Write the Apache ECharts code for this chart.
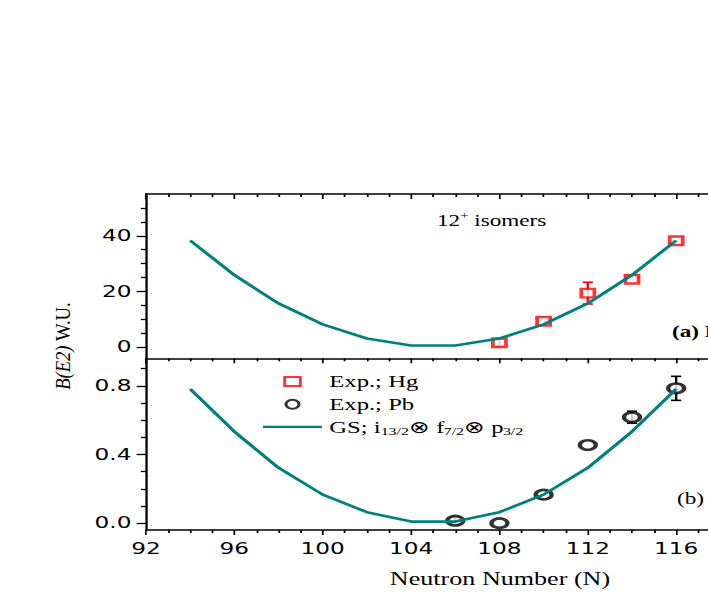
<!DOCTYPE html>
<html>
<head>
<meta charset="utf-8">
<script src="https://cdn.jsdelivr.net/npm/echarts@6/dist/echarts.min.js"></script>
<style>
html,body{margin:0;padding:0;background:#fff;overflow:hidden;width:708px;height:599px;}
#c{width:488px;height:599px;transform:scaleX(1.4508197);transform-origin:0 0;}
</style>
</head>
<body>
<div id="c"></div>
<script>
// ---- data ----
const nGS = [94, 96, 98, 100, 102, 104, 106, 108, 110, 112, 114, 116];
const gsHg = [38.3, 25.9, 15.7, 8.2, 3.1, 0.6, 0.6, 3.1, 8.2, 15.7, 25.9, 38.3];
const gsPb = [0.781, 0.533, 0.322, 0.166, 0.064, 0.009, 0.009, 0.064, 0.166, 0.322, 0.533, 0.781];
const nHg = [108, 110, 112, 114, 116];
const expHg = [1.6, 9.3, 19.4, 24.4, 38.2];
const errHg = [1.2, 0, 3.9, 0, 0];
const nPb = [106, 108, 110, 112, 114, 116];
const expPb = [0.014, 0.0, 0.166, 0.455, 0.617, 0.785];
const errPb = [0.02, 0, 0, 0, 0.035, 0.07];
const xTicks = [92, 96, 100, 104, 108, 112, 116];
const yTopMajor = [0, 20, 40];
const yTopMinor = [5, 10, 15, 25, 30, 35, 45, 50];
const yBotMajor = [0, 0.4, 0.8];
const yBotMinor = [0.1, 0.2, 0.3, 0.5, 0.6, 0.7, 0.9];
const nameHg = 'Exp.; Hg';
const namePb = 'Exp.; Pb';
const nameGS = 'GS; i13/2\u2297 f7/2\u2297 p3/2';

// ---- layout helpers (chart is stretched horizontally by S) ----
const W = 488;
const S = 708 / W;
const px = v => v / S;
const serif = "Liberation Serif";
const sans = "DejaVu Sans";
const TEAL = '#008080';

const chart = echarts.init(document.getElementById('c'), null, {renderer: 'svg', width: W, height: 599});

const gridLeft = px(146);
const xRight = px(146 + 28 * 22.09);
const gridRight = W - xRight;

function errData(ns, vs, es) {
  const out = [];
  ns.forEach((n, i) => { if (es[i] > 0) out.push([n, vs[i] - es[i], vs[i] + es[i]]); });
  return out;
}
function errRender(color, capHalf) {
  return function (params, api) {
    const x = api.value(0);
    const a = api.coord([x, api.value(1)]);
    const b = api.coord([x, api.value(2)]);
    const st = {stroke: color, lineWidth: 1.6};
    return {type: 'group', children: [
      {type: 'line', shape: {x1: a[0], y1: a[1], x2: b[0], y2: b[1]}, style: st},
      {type: 'line', shape: {x1: a[0] - capHalf, y1: a[1], x2: a[0] + capHalf, y2: a[1]}, style: st},
      {type: 'line', shape: {x1: b[0] - capHalf, y1: b[1], x2: b[0] + capHalf, y2: b[1]}, style: st}
    ]};
  };
}

const axisLineStyle = {color: '#000', width: 1.6};
function xAxisBase(gridIndex, position, inside, showLabel) {
  return {
    type: 'value', gridIndex: gridIndex, position: position, min: 92, max: 120, interval: 4,
    axisLine: {show: true, onZero: false, lineStyle: axisLineStyle},
    axisTick: {show: true, inside: inside, length: 5, lineStyle: {color: '#000', width: 1.2}},
    minorTick: {show: true, splitNumber: 4, length: 3, lineStyle: {color: '#000', width: 1.2}},
    axisLabel: {show: showLabel, margin: 11, fontFamily: sans, fontSize: 16, color: '#000',
      customValues: xTicks, formatter: v => String(v)},
    splitLine: {show: false}
  };
}
function yAxisMajor(gridIndex, min, max, vals, fmt) {
  return {
    type: 'value', gridIndex: gridIndex, position: 'left', min: min, max: max,
    axisLine: {show: true, onZero: false, lineStyle: axisLineStyle},
    axisTick: {show: true, inside: false, length: 6.5, customValues: vals, lineStyle: {color: '#000', width: 1.3}},
    axisLabel: {show: true, margin: 10, customValues: vals, fontFamily: sans, fontSize: 16, color: '#000', formatter: fmt},
    splitLine: {show: false}
  };
}
function yAxisMinor(gridIndex, min, max, vals) {
  return {
    type: 'value', gridIndex: gridIndex, position: 'left', offset: 0, min: min, max: max,
    axisLine: {show: false},
    axisTick: {show: true, inside: false, length: 3.5, customValues: vals, lineStyle: {color: '#000', width: 1.3}},
    axisLabel: {show: false},
    splitLine: {show: false}
  };
}

const option = {
  backgroundColor: '#fff',
  animation: false,
  grid: [
    {left: gridLeft, right: gridRight, top: 194, height: 164.3, outerBoundsMode: 'none', containLabel: false},
    {left: gridLeft, right: gridRight, top: 358.3, height: 171.7, outerBoundsMode: 'none', containLabel: false}
  ],
  xAxis: [
    xAxisBase(0, 'top', true, false),
    xAxisBase(1, 'bottom', false, true),
    xAxisBase(1, 'top', true, false)
  ],
  yAxis: [
    yAxisMajor(0, -4, 55, yTopMajor, v => String(v)),
    yAxisMinor(0, -4, 55, yTopMinor),
    yAxisMajor(1, -0.04, 0.96, yBotMajor, v => v.toFixed(1)),
    yAxisMinor(1, -0.04, 0.96, yBotMinor)
  ],
  legend: {
    orient: 'vertical', left: px(263), top: 371.5, padding: 0,
    itemWidth: px(59), itemHeight: 9, itemGap: 2.7,
    symbolKeepAspect: true,
    selectedMode: false,
    data: [
      {name: nameHg, icon: 'path://M0 0H12V10H0Z'},
      {name: namePb},
      {name: nameGS, icon: 'path://M0 0H100V6H0Z'}
    ],
    formatter: function (name) {
      if (name === nameGS) return '{m|GS; i}{s|13/2}{m|\u2297 f}{s|7/2}{m|\u2297 p}{s|3/2}';
      return '{m|' + name + '}';
    },
    textStyle: {
      fontFamily: serif, fontSize: 17, color: '#000', lineHeight: 20,
      rich: {
        m: {fontFamily: serif, fontSize: 17, color: '#000', lineHeight: 20},
        s: {fontFamily: serif, fontSize: 11, color: '#000', lineHeight: 11, verticalAlign: 'bottom'}
      }
    }
  },
  series: [
    {type: 'custom', name: 'errHg', xAxisIndex: 0, yAxisIndex: 0, z: 1,
      renderItem: errRender('#ff0000', 3.5), data: errData(nHg, expHg, errHg), silent: true},
    {type: 'custom', name: 'errPb', xAxisIndex: 1, yAxisIndex: 2, z: 1,
      renderItem: errRender('#000', 3.5), data: errData(nPb, expPb, errPb), silent: true},
    {type: 'scatter', name: nameHg, xAxisIndex: 0, yAxisIndex: 0, z: 2,
      symbol: 'rect', symbolSize: [9, 8.5],
      itemStyle: {color: '#fff', borderColor: '#ff0000', borderWidth: 2.5},
      data: nHg.map((n, i) => [n, expHg[i]])},
    {type: 'scatter', name: namePb, xAxisIndex: 1, yAxisIndex: 2, z: 2,
      symbol: 'circle', symbolSize: [11, 9.5],
      itemStyle: {color: '#fff', borderColor: '#000', borderWidth: 2.8},
      data: nPb.map((n, i) => [n, expPb[i]])},
    {type: 'line', name: nameGS, xAxisIndex: 0, yAxisIndex: 0, z: 3,
      symbol: 'none', lineStyle: {color: TEAL, width: 2.6}, itemStyle: {color: TEAL},
      data: nGS.map((n, i) => [n, gsHg[i]])},
    {type: 'line', name: nameGS, xAxisIndex: 1, yAxisIndex: 2, z: 3,
      symbol: 'none', lineStyle: {color: TEAL, width: 2.6}, itemStyle: {color: TEAL},
      data: nGS.map((n, i) => [n, gsPb[i]])}
  ],
  graphic: [
    {type: 'text', x: px(63), y: 346, rotation: Math.PI / 2, scaleX: 1.33,
      style: {text: '{i|B(E2)}{n| W.U.}', textAlign: 'center', textVerticalAlign: 'middle',
        rich: {i: {fontFamily: serif, fontSize: 14, fontStyle: 'italic', fill: '#000'},
               n: {fontFamily: serif, fontSize: 14, fill: '#000'}}}},
    {type: 'text', x: px(500), y: 579,
      style: {text: 'Neutron Number (N)', fontFamily: serif, fontSize: 18, fill: '#000',
        textAlign: 'center', textVerticalAlign: 'middle'}},
    {type: 'text', x: px(437), y: 220,
      style: {text: '{n|12}{p|+}{n| isomers}', textAlign: 'left', textVerticalAlign: 'middle',
        rich: {n: {fontFamily: serif, fontSize: 16, fill: '#000', lineHeight: 18},
               p: {fontFamily: serif, fontSize: 10, fill: '#000', lineHeight: 10, verticalAlign: 'top'}}}},
    {type: 'text', x: px(672), y: 331,
      style: {text: '(a) Hg', fontFamily: serif, fontSize: 16, fontWeight: 'bold', fill: '#000',
        textAlign: 'left', textVerticalAlign: 'middle'}},
    {type: 'text', x: px(677), y: 498,
      style: {text: '(b) Pb', fontFamily: serif, fontSize: 16, fill: '#000',
        textAlign: 'left', textVerticalAlign: 'middle'}}
  ]
};
chart.setOption(option);
</script>
</body>
</html>
